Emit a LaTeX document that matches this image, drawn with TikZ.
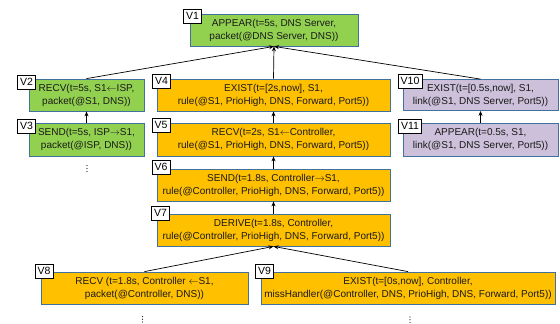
\documentclass[tikz,border=0pt]{standalone}
\usepackage{fontspec}
\setmainfont{Liberation Sans}
\usetikzlibrary{arrows.meta}
\definecolor{bgreen}{HTML}{92D050}
\definecolor{borange}{HTML}{FFC000}
\definecolor{bpurple}{HTML}{CCC0DA}
\definecolor{bborder}{HTML}{41719C}
\definecolor{txt}{HTML}{1A1A1A}
\newcommand{\la}{\ensuremath{\leftarrow}}
\newcommand{\ra}{\ensuremath{\rightarrow}}
\tikzset{
  box/.style={draw=bborder, line width=0.8pt, rectangle, inner sep=0pt, align=center,
    minimum height=32pt, text=txt, font=\fontsize{10}{13}\selectfont},
  gbox/.style={box, fill=bgreen},
  obox/.style={box, fill=borange},
  pbox/.style={box, fill=bpurple},
  lab/.style={draw=black, fill=white, line width=0.6pt, inner xsep=2.5pt, inner ysep=0pt,
    minimum height=14pt, font=\fontsize{10.5}{12}\selectfont},
  arr/.style={-{Stealth[length=5pt,width=4pt]}, line width=0.7pt, black},
  dot/.style={fill=txt, circle, inner sep=0pt, minimum size=1.2pt}
}
\begin{document}
\begin{tikzpicture}[x=1pt,y=-1pt]
\useasboundingbox (0,0) rectangle (560,324);
% boxes
\node[gbox, minimum width=168pt] (V1) at (274,30) {APPEAR(t=5s, DNS Server,\\packet(@DNS Server, DNS))};
\node[gbox, minimum width=115pt] (V2) at (86.5,95) {RECV(t=5s, S1\la ISP,\\packet(@S1, DNS))};
\node[gbox, minimum width=115pt, minimum height=33pt] (V3) at (86.5,139.5) {SEND(t=5s, ISP\ra S1,\\packet(@ISP, DNS))};
\node[obox, minimum width=233pt] (V4) at (273.5,95) {EXIST(t=[2s,now], S1,\\rule(@S1, PrioHigh, DNS, Forward, Port5))};
\node[obox, minimum width=233pt, minimum height=33pt] (V5) at (273.5,139.5) {RECV(t=2s, S1\la Controller,\\rule(@S1, PrioHigh, DNS, Forward, Port5))};
\node[obox, minimum width=233pt] (V6) at (273.5,185) {SEND(t=1.8s, Controller\ra S1,\\rule(@Controller, PrioHigh, DNS, Forward, Port5))};
\node[obox, minimum width=233pt] (V7) at (273.5,230) {DERIVE(t=1.8s, Controller,\\rule(@Controller, PrioHigh, DNS, Forward, Port5))};
\node[obox, minimum width=207pt] (V8) at (144.5,288) {RECV (t=1.8s, Controller \la S1,\\packet(@Controller, DNS))};
\node[obox, minimum width=294pt] (V9) at (408,288) {EXIST(t=[0s,now], Controller,\\missHandler(@Controller, DNS, PrioHigh, DNS, Forward, Port5))};
\node[pbox, minimum width=155pt, minimum height=31pt] (V10) at (480.5,95) {EXIST(t=[0.5s,now], S1,\\link(@S1, DNS Server, Port5))};
\node[pbox, minimum width=155pt, minimum height=33pt] (V11) at (480.5,139.5) {APPEAR(t=0.5s, S1,\\link(@S1, DNS Server, Port5))};
% connectors
\draw[arr] (V2.north) -- (V1.south);
\draw[arr] (V4.north) -- (V1.south);
\draw[arr] (V10.north) -- (V1.south);
\draw[arr] (V3.north) -- (V2.south);
\draw[arr] (V5.north) -- (V4.south);
\draw[arr] (V6.north) -- (V5.south);
\draw[arr] (V7.north) -- (V6.south);
\draw[arr] (V11.north) -- (V10.south);
\draw[arr] (V8.north) -- (V7.south);
\draw[arr] (V9.north) -- (V7.south);
% labels
\node[lab] (L1) at (192.5,16) {V1};
\node[lab] (L2) at (26.5,82) {V2};
\node[lab] (L3) at (26.5,126) {V3};
\node[lab] (L4) at (161.5,81) {V4};
\node[lab] (L5) at (161,125) {V5};
\node[lab] (L6) at (161,167) {V6};
\node[lab] (L7) at (160.5,213) {V7};
\node[lab] (L8) at (44,271) {V8};
\node[lab] (L9) at (264.5,271) {V9};
\node[lab] (L10) at (410,81) {V10};
\node[lab] (L11) at (410,126) {V11};
% ellipses
\foreach \yy [count=\i] in {165.5,168.5,171.5} {\node[dot] (da\i) at (87,\yy) {};}
\foreach \yy [count=\i] in {316.5,319.2,321.9} {\node[dot] (db\i) at (142.5,\yy) {};}
\foreach \yy [count=\i] in {317,319.7,322.4} {\node[dot] (dc\i) at (410,\yy) {};}
\end{tikzpicture}
\end{document}
